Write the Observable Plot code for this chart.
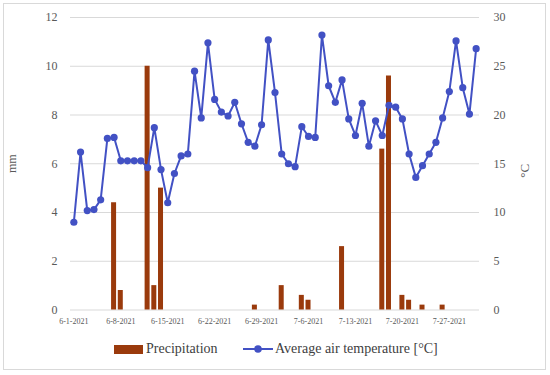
<!DOCTYPE html>
<html>
<head>
<meta charset="utf-8">
<script src="https://cdn.jsdelivr.net/npm/d3@7"></script>
<script src="https://cdn.jsdelivr.net/npm/@observablehq/plot@0.6"></script>
<style>
  html, body { margin: 0; padding: 0; background: #fff; }
  #frame { position: absolute; left: 3px; top: 3px; width: 543px; height: 367px; border: 1px solid #d9d9d9; box-sizing: border-box; }
  #chart { position: absolute; left: 0; top: 0; }
  #legend { position: absolute; left: 0; top: 338px; width: 550px; height: 22px; font-family: "Liberation Serif", "DejaVu Serif", serif; font-size: 14px; color: #404040; }
  .item { position: absolute; top: 0; display: flex; align-items: center; height: 22px; font-family: "Liberation Serif", serif; }
</style>
</head>
<body>
<div id="frame"></div>
<div id="chart"></div>
<div id="legend">
  <div class="item" style="left:114px"><span style="display:inline-block;width:29px;height:9px;background:#9a3a0c;margin-right:3px"></span>Precipitation</div>
  <div class="item" style="left:243px"><svg width="30" height="12" style="margin-right:2px"><line x1="0" y1="6" x2="30" y2="6" stroke="#4251c4" stroke-width="2"/><circle cx="15" cy="6" r="3.8" fill="#4251c4"/></svg>Average air temperature [°C]</div>
</div>
<script>
// Daily categories (June 1 – July 31, 2021)
const days = d3.utcDay.range(new Date(Date.UTC(2021, 5, 1)), new Date(Date.UTC(2021, 7, 1)))
  .map(d3.utcFormat("%-m-%-d-%Y"));

// Average air temperature [°C], one value per day
const temperature = [
  9.0, 16.2, 10.2, 10.3, 11.3, 17.6, 17.7, 15.3, 15.3, 15.3,
  15.3, 14.6, 18.7, 14.4, 11.0, 14.0, 15.8, 16.0, 24.5, 19.7,
  27.4, 21.6, 20.3, 19.9, 21.3, 19.1, 17.2, 16.8, 19.0, 27.7,
  22.3, 16.0, 15.0, 14.7, 18.8, 17.8, 17.7, 28.2, 23.0, 21.3,
  23.6, 19.6, 17.9, 21.2, 16.8, 19.4, 17.9, 21.0, 20.8, 19.6,
  16.0, 13.6, 14.8, 16.0, 17.2, 19.7, 22.4, 27.6, 22.8, 20.1,
  26.8
];

// Precipitation [mm] on rainy days
const precipDays = ["6-7-2021", "6-8-2021", "6-12-2021", "6-13-2021", "6-14-2021", "6-28-2021",
  "7-2-2021", "7-5-2021", "7-6-2021", "7-11-2021", "7-17-2021", "7-18-2021",
  "7-20-2021", "7-21-2021", "7-23-2021", "7-26-2021"];
const precipMm = [4.4, 0.8, 10.0, 1.0, 5.0, 0.2, 1.0, 0.6, 0.4, 2.6, 6.6, 9.6, 0.6, 0.4, 0.2, 0.2];

const xTickLabels = ["6-1-2021", "6-8-2021", "6-15-2021", "6-22-2021", "6-29-2021",
  "7-6-2021", "7-13-2021", "7-20-2021", "7-27-2021"];
const mmTicks = [0, 2, 4, 6, 8, 10, 12];
const tempTicks = [0, 5, 10, 15, 20, 25, 30];

const k = 12 / 30; // °C -> mm axis mapping

const precipData = precipDays.map((d, i) => ({day: d, mm: precipMm[i]}));
const tempData = days.map((d, i) => ({day: d, t: temperature[i]}));

const chart = Plot.plot({
  width: 550,
  height: 330,
  marginTop: 17,
  marginBottom: 20.5,
  marginLeft: 70,
  marginRight: 71,
  style: {fontFamily: "Liberation Serif, serif", color: "#595959", background: "transparent"},
  x: {type: "band", domain: days, padding: 0},
  y: {domain: [0, 12]},
  marks: [
    Plot.ruleY(mmTicks, {stroke: "#d9d9d9", strokeWidth: 1}),
    Plot.barY(precipData, {x: "day", y: "mm", fill: "#9a3a0c", insetLeft: 0.85, insetRight: 0.85}),
    Plot.line(tempData, {x: "day", y: d => d.t * k, stroke: "#4251c4", strokeWidth: 2}),
    Plot.dot(tempData, {x: "day", y: d => d.t * k, fill: "#4251c4", r: 3.6}),
    Plot.axisX({ticks: xTickLabels, tickSize: 0, tickPadding: 8, fontSize: 8, label: null}),
    Plot.axisY({ticks: mmTicks, anchor: "left", tickSize: 0, tickPadding: 13, fontSize: 12,
      label: "mm", labelAnchor: "center", labelOffset: 63, labelArrow: "none"}),
    Plot.axisY({ticks: tempTicks.map(t => t * k), anchor: "right", tickSize: 0, tickPadding: 14, fontSize: 12,
      tickFormat: d => String(Math.round(d / k)), label: null}),
    Plot.text(["°C"], {frameAnchor: "right", dx: 45, rotate: -90, fontSize: 13, fill: "#595959"})
  ]
});
document.getElementById("chart").appendChild(chart);
</script>
</body>
</html>
